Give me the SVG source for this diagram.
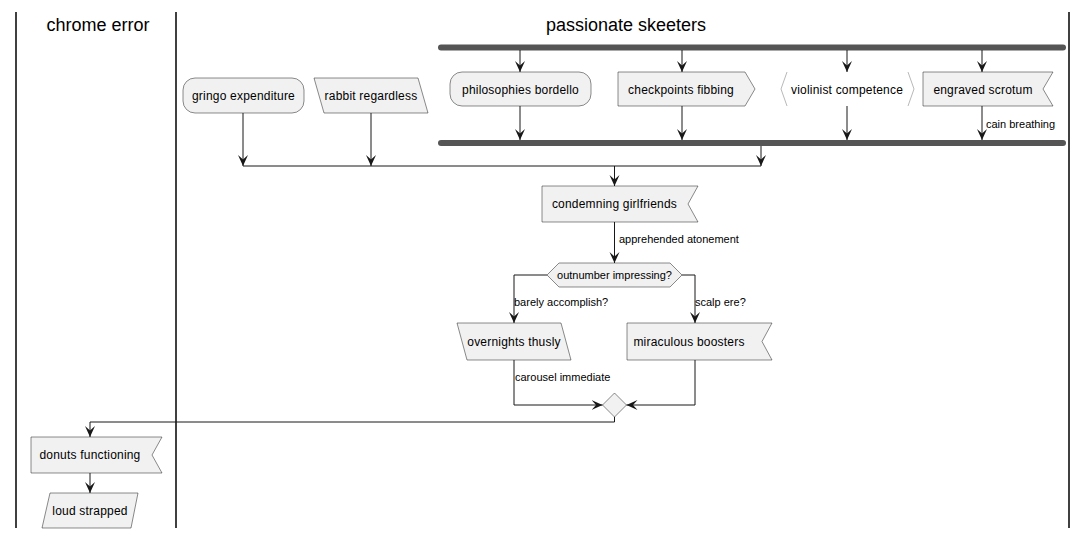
<svg xmlns="http://www.w3.org/2000/svg" width="1088" height="539" viewBox="0 0 1088 539">
<defs>
<style>
.lane{stroke:#000;stroke-width:1.5;fill:none}
.hdr{font-family:"Liberation Sans",Arial,sans-serif;font-size:18px;fill:#000;text-anchor:middle}
.nd{fill:#F1F1F1;stroke:#181818;stroke-width:0.5}
.t{font-family:"Liberation Sans",Arial,sans-serif;font-size:12px;letter-spacing:0.2px;fill:#000;text-anchor:middle}
.lb{font-family:"Liberation Sans",Arial,sans-serif;font-size:11px;fill:#000}
.c{stroke:#181818;stroke-width:1;fill:none}
.ca{stroke:#181818;stroke-width:1;fill:none;marker-end:url(#ah)}
.bar{fill:#555555}
</style>
<marker id="ah" markerWidth="12" markerHeight="12" refX="11" refY="5.5" orient="auto" markerUnits="userSpaceOnUse">
<path d="M0,0.5 L11,5.5 L0,10.5 L4.5,5.5 Z" fill="#181818"/>
</marker>
</defs>
<rect width="1088" height="539" fill="#fff"/>
<g id="lanes">
<line class="lane" x1="16" y1="12" x2="16" y2="528"/>
<line class="lane" x1="176" y1="12" x2="176" y2="528"/>
<line class="lane" x1="1069" y1="12" x2="1069" y2="528"/>
<text class="hdr" x="98" y="31">chrome error</text>
<text class="hdr" x="626" y="31">passionate skeeters</text>
</g>
<g id="fork-top"><rect class="bar" x="438" y="44.5" width="628" height="6" rx="3"/></g>
<g id="fork-bottom"><rect class="bar" x="438" y="140" width="628" height="6" rx="3"/></g>
<g id="gringo"><rect class="nd" x="183" y="78" width="121" height="35" rx="12"/><text class="t" x="243.5" y="100">gringo expenditure</text></g>
<g id="rabbit"><polygon class="nd" points="314,78 418,78 428,113 324,113"/><text class="t" x="371" y="100">rabbit regardless</text></g>
<g id="philosophies"><rect class="nd" x="450" y="72" width="141" height="34" rx="12"/><text class="t" x="520.5" y="94">philosophies bordello</text></g>
<g id="checkpoints"><polygon class="nd" points="618,72 745,72 755,89 745,106 618,106"/><text class="t" x="681" y="94">checkpoints fibbing</text></g>
<g id="violinist"><polyline points="787,72 781,89 787,106" fill="none" stroke="#888" stroke-width="0.6"/><polyline points="908,72 914,89 908,106" fill="none" stroke="#888" stroke-width="0.6"/><text class="t" x="847" y="94">violinist competence</text></g>
<g id="engraved"><polygon class="nd" points="923,72 1053,72 1043,89 1053,106 923,106"/><text class="t" x="983" y="94">engraved scrotum</text></g>
<g id="condemning"><polygon class="nd" points="542,186 698,186 688,204 698,222 542,222"/><text class="t" x="614.5" y="208">condemning girlfriends</text></g>
<g id="decision"><polygon class="nd" points="547,275 559,263 670,263 682,275 670,287 559,287"/><text class="t" x="614.5" y="279" style="font-size:11px;letter-spacing:0">outnumber impressing?</text></g>
<g id="overnights"><polygon class="nd" points="457,323 561,323 571,360 467,360"/><text class="t" x="514" y="346">overnights thusly</text></g>
<g id="miraculous"><polygon class="nd" points="627,323 772,323 762,341.5 772,360 627,360"/><text class="t" x="689" y="346">miraculous boosters</text></g>
<g id="merge"><polygon class="nd" points="614.5,393 626.5,405 614.5,417 602.5,405"/></g>
<g id="donuts"><polygon class="nd" points="31,437 162,437 152,455 162,473 31,473"/><text class="t" x="90" y="459">donuts functioning</text></g>
<g id="loud"><polygon class="nd" points="50,493 138,493 131,528 42,528"/><text class="t" x="90" y="515">loud strapped</text></g>
<g id="connectors">
<line class="ca" x1="520" y1="50" x2="520" y2="72"/>
<line class="ca" x1="682" y1="50" x2="682" y2="72"/>
<line class="ca" x1="847" y1="50" x2="847" y2="72"/>
<line class="ca" x1="982" y1="50" x2="982" y2="72"/>
<line class="ca" x1="520" y1="106" x2="520" y2="140"/>
<line class="ca" x1="682" y1="106" x2="682" y2="140"/>
<line class="ca" x1="847" y1="106" x2="847" y2="140"/>
<line class="ca" x1="982" y1="106" x2="982" y2="140"/>
<text class="lb" x="986" y="128">cain breathing</text>
<line class="ca" x1="243" y1="113" x2="243" y2="166"/>
<line class="ca" x1="371" y1="113" x2="371" y2="166"/>
<line class="ca" x1="761" y1="146" x2="761" y2="166"/>
<line class="c" x1="243" y1="166" x2="761" y2="166"/>
<line class="ca" x1="614.5" y1="166" x2="614.5" y2="186"/>
<line class="ca" x1="614.5" y1="222" x2="614.5" y2="263"/>
<text class="lb" x="619" y="243">apprehended atonement</text>
<polyline class="ca" points="547,275 514,275 514,323"/>
<text class="lb" x="514" y="306">barely accomplish?</text>
<polyline class="ca" points="682,275 695,275 695,323"/>
<text class="lb" x="695" y="306">scalp ere?</text>
<polyline class="ca" points="514,360 514,405 602.5,405"/>
<text class="lb" x="515" y="381">carousel immediate</text>
<polyline class="ca" points="695,360 695,405 626.5,405"/>
<polyline class="ca" points="614.5,417 614.5,422 90,422 90,437"/>
<line class="ca" x1="90" y1="473" x2="90" y2="493"/>
</g>
</svg>
